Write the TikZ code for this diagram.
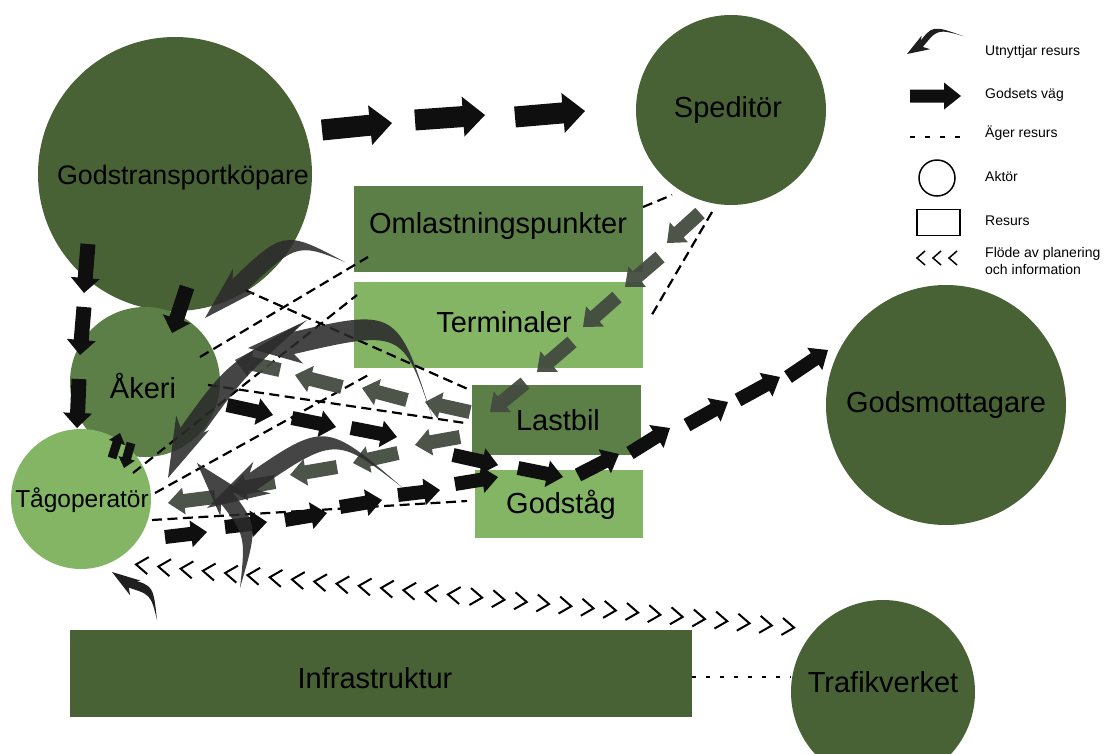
\documentclass[tikz,border=0pt]{standalone}
\usepackage{fontspec}
\setmainfont{Liberation Sans}
\usetikzlibrary{calc}
\definecolor{dk}{HTML}{486235}
\definecolor{md}{HTML}{5B7F47}
\definecolor{lt}{HTML}{84B565}
\definecolor{gr}{HTML}{434B3F}
\definecolor{bk}{HTML}{0F0F0F}
\definecolor{sw}{HTML}{2B2B2B}
\tikzset{
 actor/.style={circle, inner sep=0pt, draw=none},
 res/.style={rectangle, inner sep=0pt, draw=none},
 lbl/.style={font=\fontsize{29}{34}\selectfont, inner sep=0pt},
 leg/.style={font=\fontsize{14}{16.5}\selectfont, anchor=west, inner sep=0pt, align=left},
 own/.style={draw=black, line width=2.2pt, dash pattern=on 10pt off 5.5pt},
 blk/.style={fill=bk},
 gra/.style={fill=gr, fill opacity=0.95},
 swo/.style={fill=sw},
 swb/.style={fill=black},
 chev/.style={draw=black, line width=2pt, line join=miter},
}
\newcommand\arrsize[3]{\def\aw{#1pt}\def\aW{#2pt}\def\ahl{#3pt}}
\newcommand\barr[3][blk]{%
 \coordinate (bA) at (#2); \coordinate (bB) at (#3);
 \coordinate (bH) at ($(bB)!\ahl!(bA)$);
 \fill[#1] ($(bA)!\aw!90:(bB)$) -- ($(bH)!\aw!-90:(bA)$) -- ($(bH)!\aW!-90:(bA)$) -- (bB)
   -- ($(bH)!\aW!90:(bA)$) -- ($(bH)!\aw!90:(bA)$) -- ($(bA)!\aw!-90:(bB)$) -- cycle;}
% tail, control, notch, tip, body half width, head half width
\newcommand\swoosh[7][swo]{%
 \begin{scope}[transparency group, opacity=0.88]
 \coordinate (sT) at (#2); \coordinate (sC) at (#3); \coordinate (sH) at (#4); \coordinate (sP) at (#5);
 \coordinate (sB) at ($(sH)!-0.45!(sP)$);
 \coordinate (sC1) at ($(sC)!#6pt!90:(sH)$);
 \coordinate (sC2) at ($(sC)!#6pt!-90:(sH)$);
 \fill[#1] (sT) .. controls (sC1) .. ($(sH)!#6pt!90:(sP)$) -- ($(sH)!#6pt!-90:(sP)$) .. controls (sC2) .. (sT) -- cycle;
 \fill[#1] ($(sB)!#7pt!90:(sP)$) -- (sP) -- ($(sB)!#7pt!-90:(sP)$) -- (sH) -- cycle;
 \end{scope}}
\begin{document}
\begin{tikzpicture}[x=1pt,y=-1pt]
\useasboundingbox (0,0) rectangle (1104,753);
% ---------- actors
\node[actor, fill=dk, minimum size=274pt] (gtk) at (175,174) {};
\node[actor, fill=dk, minimum size=190pt] (sped) at (731,110) {};
\node[actor, fill=dk, minimum size=240pt] (gm) at (946,405) {};
\node[actor, fill=dk, minimum size=184pt] (tv) at (883,692) {};
\node[actor, fill=md, minimum size=150pt] (ak) at (145,382) {};
\node[actor, fill=lt, minimum size=140pt] (tago) at (81,499) {};
% ---------- resources
\node[res, fill=md, minimum width=289pt, minimum height=86pt] (oml) at (498.5,229) {};
\node[res, fill=lt, minimum width=289pt, minimum height=86pt] (term) at (498.5,325) {};
\node[res, fill=md, minimum width=169pt, minimum height=70pt] (last) at (556,420) {};
\node[res, fill=lt, minimum width=168pt, minimum height=68pt] (gtag) at (559,504) {};
\node[res, fill=dk, minimum width=622pt, minimum height=87pt] (infra) at (381,673.5) {};
% ---------- labels
\node[lbl, font=\fontsize{26.8}{32}\selectfont] (gtk-t) at (183,178) {Godstransportköpare};
\node[lbl] (sped-t) at (728,110) {Speditör};
\node[lbl] (gm-t) at (946,405) {Godsmottagare};
\node[lbl] (tv-t) at (883,682) {Trafikverket};
\node[lbl] (ak-t) at (143,386) {Åkeri};
\node[lbl, font=\fontsize{24.5}{28}\selectfont] (tago-t) at (82,500) {Tågoperatör};
\node[lbl] (oml-t) at (498,226) {Omlastningspunkter};
\node[lbl] (term-t) at (504,322) {Terminaler};
\node[lbl] (last-t) at (558,420) {Lastbil};
\node[lbl] (gtag-t) at (561,505) {Godståg};
\node[lbl] (infra-t) at (375,678) {Infrastruktur};
% ---------- ownership (dashed)
\coordinate (o1) at (643,207); \coordinate (o2) at (672,195);
\coordinate (o3) at (712,212); \coordinate (o4) at (650,318);
\coordinate (o5) at (200,357); \coordinate (o6) at (368,257);
\coordinate (o7) at (133,473); \coordinate (o8) at (357,295);
\coordinate (o9) at (208,385); \coordinate (o10) at (465,423);
\coordinate (o11) at (245,290); \coordinate (o12) at (470,390);
\coordinate (o13) at (155,493); \coordinate (o14) at (372,373);
\coordinate (o15) at (152,520); \coordinate (o16) at (467,501);
\draw[own] (o1) -- (o2);
\draw[own] (o3) -- (o4);
\draw[own] (o5) -- (o6);
\draw[own] (o7) -- (o8);
\draw[own] (o9) -- (o10);
\draw[own] (o11) -- (o12);
\draw[own] (o13) -- (o14);
\draw[own] (o15) -- (o16);
\draw[black, line width=1.6pt, dash pattern=on 4pt off 10pt] (infra.east |- 0,677) -- (tv.west |- 0,677);
% ---------- goods flow (black block arrows)
\arrsize{10.5}{20}{22}
\barr{322,130}{392,123}
\barr{415,120}{485,115}
\barr{515,117}{585,111}
\arrsize{7.5}{14.5}{15}
\barr{88,244}{84,293}
\barr{84,307}{80,355}
\barr{79,379}{77,428}
\barr{187,287}{172,333}
\arrsize{4.5}{8.5}{10}
\barr{112,458}{120,433}
\barr{131,443}{124,468}
\arrsize{7}{13.5}{16}
\barr{227,405}{273,415}
\barr{292,418}{336,427}
\barr{351,428}{397,437}
\barr{453,455}{498,465}
\barr{455,484}{498,477}
\barr{518,468}{563,477}
\barr{578,475}{619,454}
\barr{630,453}{670,428}
\barr{687,425}{728,402}
\barr{738,400}{780,377}
\barr{788,377}{828,350}
\barr{165,537}{207,532}
\barr{225,527}{267,522}
\barr{285,520}{327,513}
\barr{340,507}{382,500}
\barr{398,495}{440,490}
% ---------- grey arrows
\barr[gra]{700,213}{667,243}
\barr[gra]{660,257}{625,287}
\barr[gra]{617,297}{583,327}
\barr[gra]{572,342}{537,372}
\barr[gra]{525,383}{490,412}
\barr[gra]{470,412}{425,402}
\barr[gra]{407,400}{362,388}
\barr[gra]{342,387}{295,375}
\barr[gra]{280,370}{235,360}
\barr[gra]{460,437}{415,445}
\barr[gra]{398,453}{353,463}
\barr[gra]{337,467}{290,475}
\barr[gra]{275,482}{230,490}
\barr[gra]{215,497}{168,503}
% ---------- uses resource (swooshes)
\swoosh{345,262}{290,236}{232,292}{205,318}{9}{16}
\swoosh{433,420}{400,318}{285,345}{248,348}{11}{20}
\swoosh{307,320}{235,370}{185,440}{168,478}{11}{18}
\swoosh{403,488}{330,428}{245,487}{207,508}{9}{18}
\swoosh{240,588}{252,530}{222,492}{197,463}{8}{17}
\swoosh[swb]{157,620}{152,590}{128,583}{112,572}{4.5}{9}
% ---------- planning / information flow
\foreach \i in {0,...,29}{
 \pgfmathsetmacro\cx{142+22.28*\i}
 \pgfmathsetmacro\cy{565+2.14*\i}
 \ifnum\i<15
  \draw[chev, rotate around={-5.5:(\cx,\cy)}] (\cx+6,\cy-8.5) -- (\cx-6,\cy) -- (\cx+6,\cy+8.5);
 \else
  \draw[chev, rotate around={-5.5:(\cx,\cy)}] (\cx-6,\cy-8.5) -- (\cx+6,\cy) -- (\cx-6,\cy+8.5);
 \fi}
% ---------- legend
\swoosh[swb]{963,36}{935,27}{920,46}{907,54}{3}{8}
\node[leg] (l1) at (985,52) {Utnyttjar resurs};
\arrsize{6.5}{13.5}{17}
\coordinate (la1) at (910,96); \coordinate (la2) at (961,96);
\barr{la1}{la2}
\node[leg] (l2) at (985,95) {Godsets väg};
\coordinate (ld1) at (910,137); \coordinate (ld2) at (960,137);
\draw[black, line width=1.5pt, dash pattern=on 5pt off 10pt] (ld1) -- (ld2);
\node[leg] (l3) at (985,133) {Äger resurs};
\node[circle, draw=black, line width=1.5pt, minimum size=36pt, inner sep=0pt] (lc) at (937,178) {};
\node[leg] (l4) at (985,176) {Aktör};
\node[rectangle, draw=black, line width=1.5pt, minimum width=43pt, minimum height=26pt, inner sep=0pt] (lr) at (938.5,222.5) {};
\node[leg] (l5) at (985,221) {Resurs};
\foreach \cx in {921,937,953}{
 \draw[black, line width=1.5pt] (\cx+4,251) -- (\cx-4,258) -- (\cx+4,265);}
\node[leg] (l6) at (985,261) {Flöde av planering\\och information};
\end{tikzpicture}
\end{document}
